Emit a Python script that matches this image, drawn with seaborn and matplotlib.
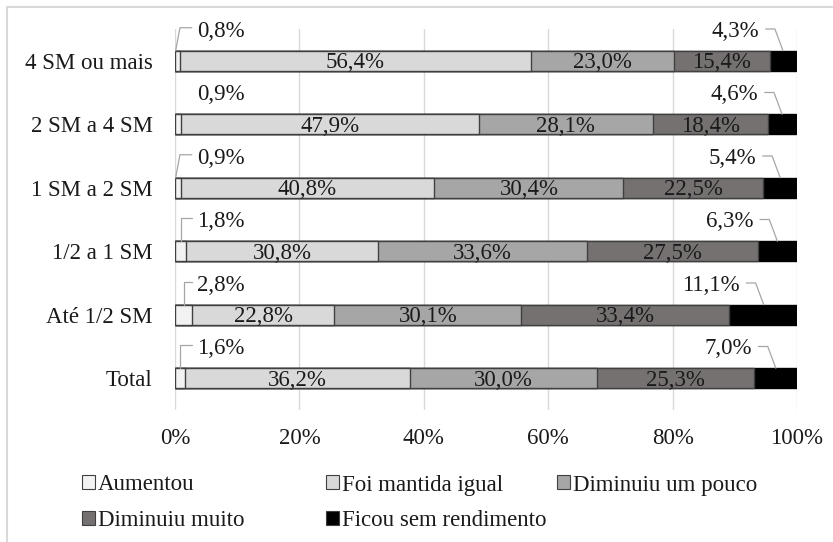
import matplotlib
matplotlib.use("Agg")
import matplotlib.pyplot as plt
from matplotlib.lines import Line2D
from matplotlib.patches import Patch
import seaborn as sns
import pandas as pd
import numpy as np

# Income bands and the share of answers in each category (%)
faixas = ["4 SM ou mais", "2 SM a 4 SM", "1 SM a 2 SM", "1/2 a 1 SM", "Até 1/2 SM", "Total"]
aumentou = [0.8, 0.9, 0.9, 1.8, 2.8, 1.6]
mantida = [56.4, 47.9, 40.8, 30.8, 22.8, 36.2]
diminuiu_pouco = [23.0, 28.1, 30.4, 33.6, 30.1, 30.0]
diminuiu_muito = [15.4, 18.4, 22.5, 27.5, 33.4, 25.3]
sem_rendimento = [4.3, 4.6, 5.4, 6.3, 11.1, 7.0]

series_names = ["Aumentou", "Foi mantida igual", "Diminuiu um pouco",
                "Diminuiu muito", "Ficou sem rendimento"]
series_values = [aumentou, mantida, diminuiu_pouco, diminuiu_muito, sem_rendimento]
colors = ["#f2f2f2", "#d9d9d9", "#a6a6a6", "#767171", "#000000"]
x_ticks = [0, 20, 40, 60, 80, 100]
x_ticklabels = ["0%", "20%", "40%", "60%", "80%", "100%"]
# rows whose first-segment label has no leader line
no_leader_first = ["2 SM a 4 SM"]

sns.set_theme(style="white")
plt.rcParams["font.family"] = ["Liberation Serif", "DejaVu Serif"]
FS = 16.5

fig = plt.figure(figsize=(8.33, 5.42), dpi=100)
ax = fig.add_axes([175 / 833, 1 - 410 / 542, 622 / 833, 381 / 542])

df = pd.DataFrame({"faixa": faixas})
for name, vals in zip(series_names, series_values):
    df[name] = vals
cum = df[series_names].cumsum(axis=1)
starts = cum.shift(1, axis=1).fillna(0)

BAR_H = 0.315
# stacked bars: draw cumulative totals from the widest down
for i in range(len(series_names) - 1, -1, -1):
    name = series_names[i]
    sns.barplot(data=pd.DataFrame({"faixa": faixas, "x": cum[name]}),
                x="x", y="faixa", order=faixas, orient="h",
                color=colors[i], saturation=1, width=BAR_H,
                edgecolor="#404040" if i < 4 else "#000000",
                linewidth=1.0, ax=ax, zorder=3)

ax.set_xlim(0, 100)
ax.set_ylim(len(faixas) - 0.5, -0.5)
ax.set_xticks(x_ticks)
ax.set_xticklabels(x_ticklabels, fontsize=FS, color="#1a1a1a")
ax.tick_params(axis="x", length=0, pad=13)
ax.tick_params(axis="y", length=0, pad=16, labelsize=FS, labelcolor="#1a1a1a")
ax.set_xlabel("")
ax.set_ylabel("")
for s in ax.spines.values():
    s.set_visible(False)
ax.grid(axis="x", color="#d9d9d9", linewidth=1.0, zorder=0)
ax.set_axisbelow(True)

def fmt(v):
    return f"{v:.1f}%".replace(".", ",")

LEAD = "#a6a6a6"
for r, faixa in enumerate(faixas):
    top = r - BAR_H / 2
    # inner labels for the middle three categories
    for i in (1, 2, 3):
        name = series_names[i]
        v = df.loc[r, name]
        cx = starts.loc[r, name] + v / 2
        ax.text(cx, r + 0.12, fmt(v), ha="center", va="baseline",
                fontsize=FS, color="#1a1a1a", zorder=5)
    # first segment: label above-left with leader
    v0 = df.loc[r, series_names[0]]
    c0 = v0 / 2
    ax.text(3.6, r - 0.378, fmt(v0), ha="left", va="baseline",
            fontsize=FS, color="#1a1a1a", zorder=5)
    if faixa not in no_leader_first:
        elbow = max(c0, 0.8)
        ax.plot([c0 if v0 > 1.5 else 0.1, elbow, 2.7], [top, r - 0.52, r - 0.52],
                color=LEAD, linewidth=0.9, zorder=4, clip_on=False)
    # last segment: label above-right with leader
    v4 = df.loc[r, series_names[4]]
    c4 = starts.loc[r, series_names[4]] + v4 / 2
    ax.text(c4 - 3.9, r - 0.378, fmt(v4), ha="right", va="baseline",
            fontsize=FS, color="#1a1a1a", zorder=5)
    ax.plot([c4 - 2.8, c4 - 1.3, c4], [r - 0.5, r - 0.5, top],
            color=LEAD, linewidth=0.9, zorder=4, clip_on=False)

# legend entries laid out on a fixed grid
legend_pos = [(82, 485), (326, 485), (557, 485), (82, 521), (326, 521)]
for (px, py), name, col in zip(legend_pos, series_names, colors):
    h = Patch(facecolor=col, edgecolor="#404040", linewidth=0.8)
    lg = fig.legend(handles=[h], labels=[name], loc="center left",
                    bbox_to_anchor=(px / 833, 1 - py / 542),
                    frameon=False, fontsize=FS, handlelength=0.55,
                    handleheight=0.55, handletextpad=0.15,
                    borderpad=0, borderaxespad=0)
    for t in lg.get_texts():
        t.set_color("#1a1a1a")

# chart-area frame on the left and top
fig.add_artist(Line2D([7 / 833, 7 / 833], [0, 1 - 7 / 542], transform=fig.transFigure,
                      color="#d9d9d9", linewidth=1.5))
fig.add_artist(Line2D([7 / 833, 1], [1 - 7 / 542, 1 - 7 / 542], transform=fig.transFigure,
                      color="#d9d9d9", linewidth=1.5))

fig.savefig("out.png", dpi=100)
